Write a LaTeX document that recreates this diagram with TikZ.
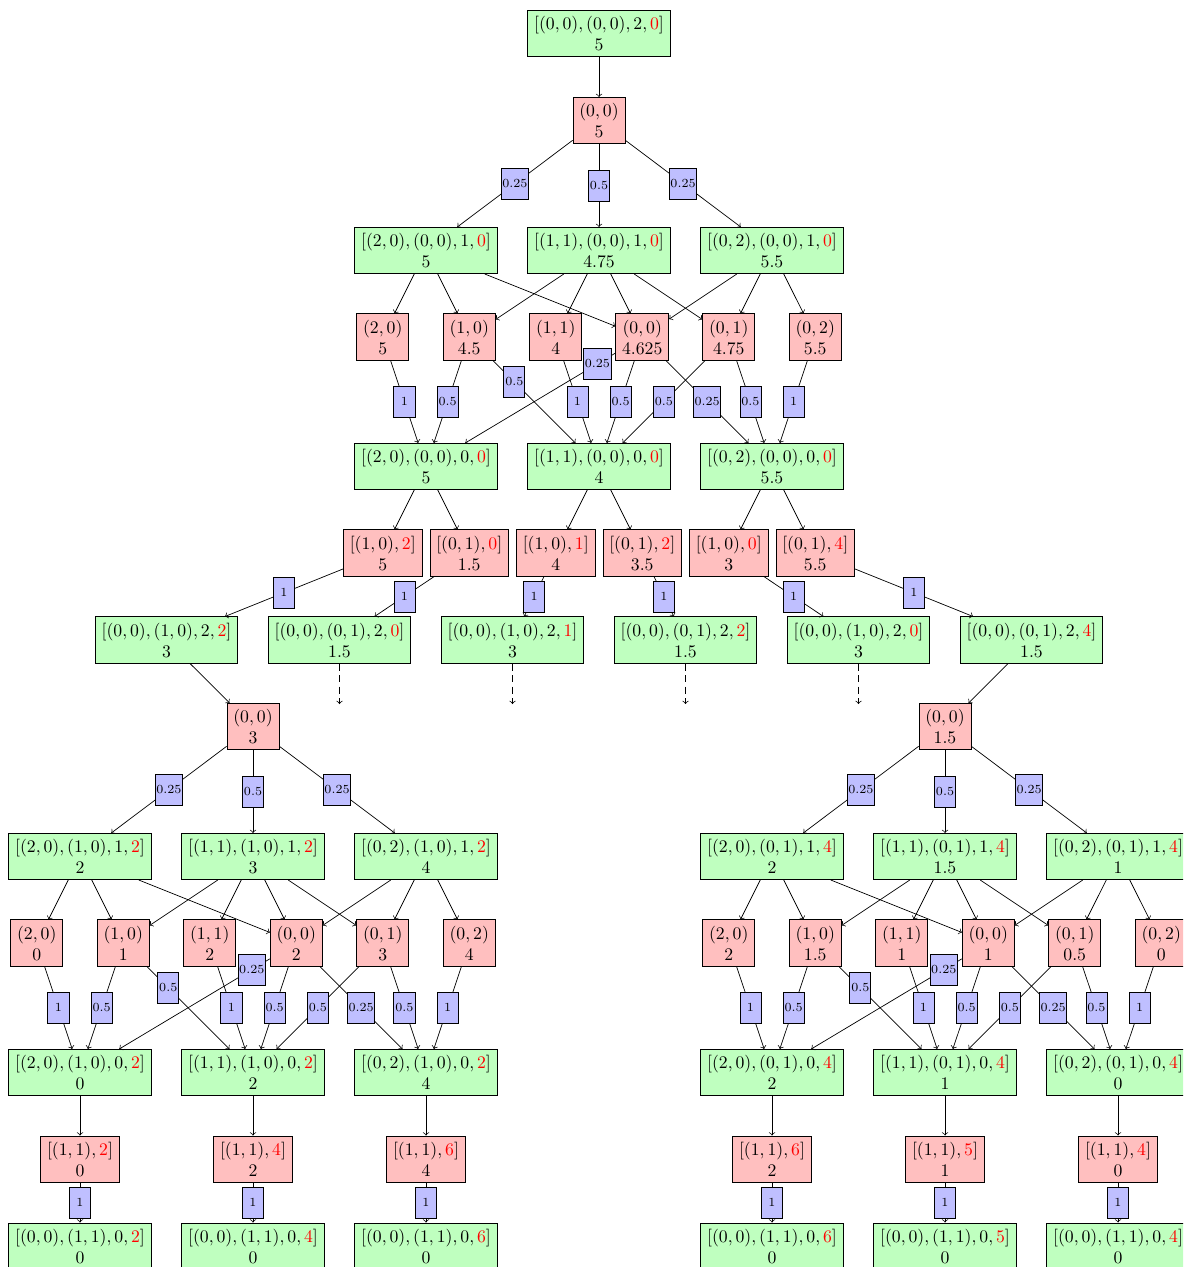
\documentclass[tikz,border=0pt]{standalone}
\newcommand\rd[1]{{\color{red}#1}}
\newcommand\coreedges{%
 \draw[arr] (R0) -- node[lbl]{0.25} (G1);
 \draw[arr] (R0) -- node[lbl]{0.5} (G2);
 \draw[arr] (R0) -- node[lbl]{0.25} (G3);
 \foreach \s/\t in {G1/r20,G1/r10,G1/r00,G2/r10,G2/r11,G2/r00,G2/r01,G3/r00,G3/r01,G3/r02}
   {\draw[arr] (\s) -- (\t);}
 \draw[arr] (r20) -- node[lbl]{1} (H1);
 \draw[arr] (r10) -- node[lbl]{0.5} (H1);
 \draw[arr] (r00) -- node[lbl,pos=0.12]{0.25} (H1);
 \draw[arr] (r10) -- node[lbl,pos=0.26]{0.5} (H2);
 \draw[arr] (r11) -- node[lbl]{1} (H2);
 \draw[arr] (r00) -- node[lbl]{0.5} (H2);
 \draw[arr] (r01) -- node[lbl]{0.5} (H2);
 \draw[arr] (r00) -- node[lbl]{0.25} (H3);
 \draw[arr] (r01) -- node[lbl]{0.5} (H3);
 \draw[arr] (r02) -- node[lbl]{1} (H3);
}
\begin{document}
\begin{tikzpicture}[x=0.565pt,y=-0.565pt,
  gn/.style={draw,fill=green!25,align=center,inner xsep=3.6pt,inner ysep=3.333pt},
  rn/.style={draw,fill=red!25,align=center,inner xsep=3.6pt,inner ysep=3.333pt},
  lbl/.style={draw,fill=blue!25,font=\scriptsize,inner xsep=0.6pt,inner ysep=0pt,minimum width=11.9pt,minimum height=17.5pt,pos=0.5},
  arr/.style={->},
  dsh/.style={->,dash pattern=on 4pt off 2.5pt}]
\useasboundingbox (0,0) rectangle (1183,1267);
\clip (0,0) rectangle (1183,1267);

% ---------- top part ----------
\node[gn] (G0) at (599,33.5) {$[(0,0),(0,0),2,\rd{0}]$\\$5$};
\begin{scope}[name prefix=T-]
\node[rn] (R0) at (599,120.5) {$(0,0)$\\$5$};
\node[gn] (G1) at (426,250.5) {$[(2,0),(0,0),1,\rd{0}]$\\$5$};
\node[gn] (G2) at (599,250.5) {$[(1,1),(0,0),1,\rd{0}]$\\$4.75$};
\node[gn] (G3) at (772,250.5) {$[(0,2),(0,0),1,\rd{0}]$\\$5.5$};
\node[rn] (r20) at (382.75,337) {$(2,0)$\\$5$};
\node[rn] (r10) at (469.25,337) {$(1,0)$\\$4.5$};
\node[rn] (r11) at (555.75,337) {$(1,1)$\\$4$};
\node[rn] (r00) at (642.25,337) {$(0,0)$\\$4.625$};
\node[rn] (r01) at (728.75,337) {$(0,1)$\\$4.75$};
\node[rn] (r02) at (815.25,337) {$(0,2)$\\$5.5$};
\node[gn] (H1) at (426,466.5) {$[(2,0),(0,0),0,\rd{0}]$\\$5$};
\node[gn] (H2) at (599,466.5) {$[(1,1),(0,0),0,\rd{0}]$\\$4$};
\node[gn] (H3) at (772,466.5) {$[(0,2),(0,0),0,\rd{0}]$\\$5.5$};
\coreedges
\end{scope}
\draw[arr] (G0) -- (T-R0);

\node[rn] (a1) at (382.75,553) {$[(1,0),\rd{2}]$\\$5$};
\node[rn] (a2) at (469.25,553) {$[(0,1),\rd{0}]$\\$1.5$};
\node[rn] (a3) at (555.75,553) {$[(1,0),\rd{1}]$\\$4$};
\node[rn] (a4) at (642.25,553) {$[(0,1),\rd{2}]$\\$3.5$};
\node[rn] (a5) at (728.75,553) {$[(1,0),\rd{0}]$\\$3$};
\node[rn] (a6) at (815.25,553) {$[(0,1),\rd{4}]$\\$5.5$};
\draw[arr] (T-H1) -- (a1); \draw[arr] (T-H1) -- (a2);
\draw[arr] (T-H2) -- (a3); \draw[arr] (T-H2) -- (a4);
\draw[arr] (T-H3) -- (a5); \draw[arr] (T-H3) -- (a6);

\node[gn] (b1) at (166.5,640) {$[(0,0),(1,0),2,\rd{2}]$\\$3$};
\node[gn] (b2) at (339.5,640) {$[(0,0),(0,1),2,\rd{0}]$\\$1.5$};
\node[gn] (b3) at (512.5,640) {$[(0,0),(1,0),2,\rd{1}]$\\$3$};
\node[gn] (b4) at (685.5,640) {$[(0,0),(0,1),2,\rd{2}]$\\$1.5$};
\node[gn] (b5) at (858.5,640) {$[(0,0),(1,0),2,\rd{0}]$\\$3$};
\node[gn] (b6) at (1031.5,640) {$[(0,0),(0,1),2,\rd{4}]$\\$1.5$};
\foreach \i in {1,...,6} {\draw[arr] (a\i) -- node[lbl]{1} (b\i);}

\coordinate (e2) at (339.5,704);
\coordinate (e3) at (512.5,704);
\coordinate (e4) at (685.5,704);
\coordinate (e5) at (858.5,704);
\foreach \i in {2,...,5} {\draw[dsh] (b\i) -- (e\i);}

% ---------- left subtree ----------
\begin{scope}[shift={(-346,606)},name prefix=L-]
\node[rn] (R0) at (599,120.5) {$(0,0)$\\$3$};
\node[gn] (G1) at (426,250.5) {$[(2,0),(1,0),1,\rd{2}]$\\$2$};
\node[gn] (G2) at (599,250.5) {$[(1,1),(1,0),1,\rd{2}]$\\$3$};
\node[gn] (G3) at (772,250.5) {$[(0,2),(1,0),1,\rd{2}]$\\$4$};
\node[rn] (r20) at (382.75,337) {$(2,0)$\\$0$};
\node[rn] (r10) at (469.25,337) {$(1,0)$\\$1$};
\node[rn] (r11) at (555.75,337) {$(1,1)$\\$2$};
\node[rn] (r00) at (642.25,337) {$(0,0)$\\$2$};
\node[rn] (r01) at (728.75,337) {$(0,1)$\\$3$};
\node[rn] (r02) at (815.25,337) {$(0,2)$\\$4$};
\node[gn] (H1) at (426,466.5) {$[(2,0),(1,0),0,\rd{2}]$\\$0$};
\node[gn] (H2) at (599,466.5) {$[(1,1),(1,0),0,\rd{2}]$\\$2$};
\node[gn] (H3) at (772,466.5) {$[(0,2),(1,0),0,\rd{2}]$\\$4$};
\node[rn] (c1) at (426,553) {$[(1,1),\rd{2}]$\\$0$};
\node[rn] (c2) at (599,553) {$[(1,1),\rd{4}]$\\$2$};
\node[rn] (c3) at (772,553) {$[(1,1),\rd{6}]$\\$4$};
\node[gn] (d1) at (426,640) {$[(0,0),(1,1),0,\rd{2}]$\\$0$};
\node[gn] (d2) at (599,640) {$[(0,0),(1,1),0,\rd{4}]$\\$0$};
\node[gn] (d3) at (772,640) {$[(0,0),(1,1),0,\rd{6}]$\\$0$};
\coreedges
\foreach \i in {1,2,3} {\draw[arr] (H\i) -- (c\i); \draw[arr] (c\i) -- node[lbl]{1} (d\i);}
\end{scope}

% ---------- right subtree ----------
\begin{scope}[shift={(346,606)},name prefix=R-]
\node[rn] (R0) at (599,120.5) {$(0,0)$\\$1.5$};
\node[gn] (G1) at (426,250.5) {$[(2,0),(0,1),1,\rd{4}]$\\$2$};
\node[gn] (G2) at (599,250.5) {$[(1,1),(0,1),1,\rd{4}]$\\$1.5$};
\node[gn] (G3) at (772,250.5) {$[(0,2),(0,1),1,\rd{4}]$\\$1$};
\node[rn] (r20) at (382.75,337) {$(2,0)$\\$2$};
\node[rn] (r10) at (469.25,337) {$(1,0)$\\$1.5$};
\node[rn] (r11) at (555.75,337) {$(1,1)$\\$1$};
\node[rn] (r00) at (642.25,337) {$(0,0)$\\$1$};
\node[rn] (r01) at (728.75,337) {$(0,1)$\\$0.5$};
\node[rn] (r02) at (815.25,337) {$(0,2)$\\$0$};
\node[gn] (H1) at (426,466.5) {$[(2,0),(0,1),0,\rd{4}]$\\$2$};
\node[gn] (H2) at (599,466.5) {$[(1,1),(0,1),0,\rd{4}]$\\$1$};
\node[gn] (H3) at (772,466.5) {$[(0,2),(0,1),0,\rd{4}]$\\$0$};
\node[rn] (c1) at (426,553) {$[(1,1),\rd{6}]$\\$2$};
\node[rn] (c2) at (599,553) {$[(1,1),\rd{5}]$\\$1$};
\node[rn] (c3) at (772,553) {$[(1,1),\rd{4}]$\\$0$};
\node[gn] (d1) at (426,640) {$[(0,0),(1,1),0,\rd{6}]$\\$0$};
\node[gn] (d2) at (599,640) {$[(0,0),(1,1),0,\rd{5}]$\\$0$};
\node[gn] (d3) at (772,640) {$[(0,0),(1,1),0,\rd{4}]$\\$0$};
\coreedges
\foreach \i in {1,2,3} {\draw[arr] (H\i) -- (c\i); \draw[arr] (c\i) -- node[lbl]{1} (d\i);}
\end{scope}

\draw[arr] (b1) -- (L-R0);
\draw[arr] (b6) -- (R-R0);
\end{tikzpicture}
\end{document}
